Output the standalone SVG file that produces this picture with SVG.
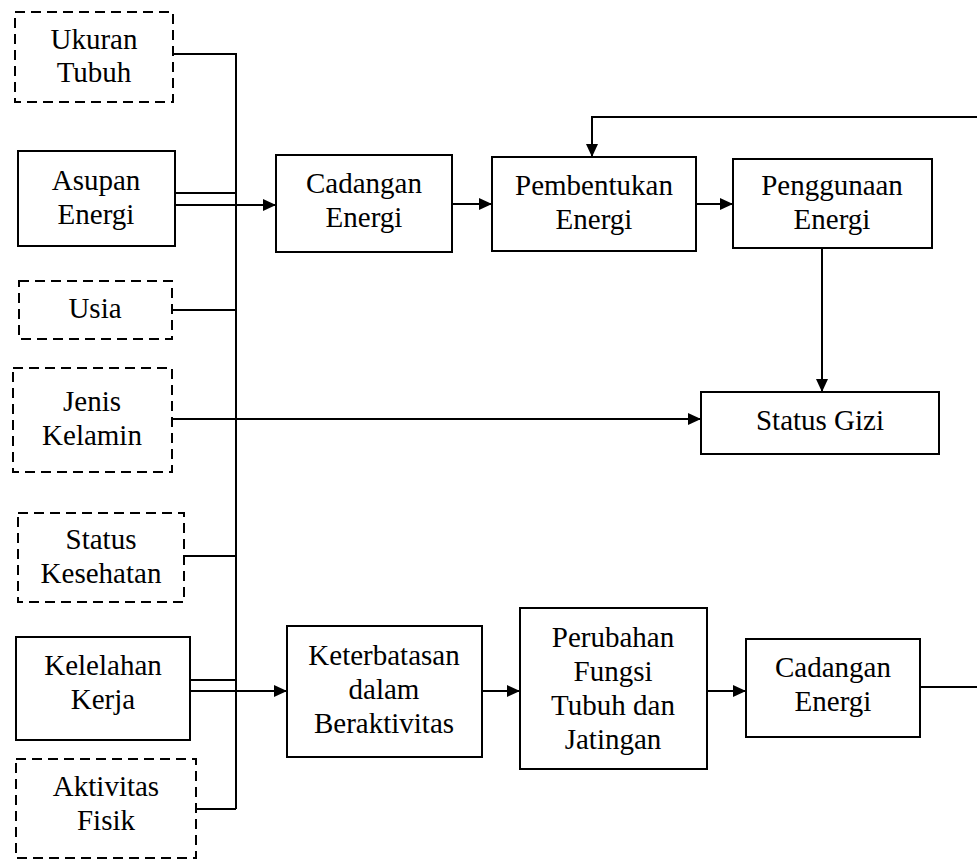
<svg xmlns="http://www.w3.org/2000/svg" width="977" height="860" viewBox="0 0 977 860">
<style>
.box{fill:#fff;stroke:#000;stroke-width:2}
.dash{fill:#fff;stroke:#000;stroke-width:2;stroke-dasharray:10 6}
.t{font-family:'Liberation Serif','DejaVu Serif',serif;font-size:29px;fill:#000;text-anchor:middle}
.ln{fill:none;stroke:#000;stroke-width:2}
.ar{fill:none;stroke:#000;stroke-width:2;marker-end:url(#ah)}
</style>
<defs>
<marker id="ah" markerUnits="userSpaceOnUse" markerWidth="14" markerHeight="14" refX="13" refY="7" orient="auto">
<path d="M0,1 L13,7 L0,13 Z" fill="#000"/>
</marker>
</defs>
<rect width="977" height="860" fill="#fff"/>
<g id="connectors">
<path class="ln" d="M173,54 H236 V809"/>
<path class="ln" d="M175,193 H236"/>
<path class="ar" d="M175,205 H276"/>
<path class="ln" d="M172,310 H236"/>
<path class="ar" d="M172,419 H701"/>
<path class="ln" d="M184,556 H236"/>
<path class="ln" d="M190,680 H236"/>
<path class="ar" d="M190,691 H287"/>
<path class="ln" d="M196,809 H236"/>
<path class="ar" d="M452,204 H492"/>
<path class="ar" d="M696,204 H733"/>
<path class="ar" d="M977,117 H592 V157"/>
<path class="ar" d="M822,248 V392"/>
<path class="ar" d="M482,691 H520"/>
<path class="ar" d="M707,691 H746"/>
<path class="ln" d="M920,687 H977"/>
</g>
<g id="ukuran-tubuh"><rect class="dash" x="15" y="12" width="158" height="90"/><text class="t" x="94" y="49">Ukuran</text><text class="t" x="94" y="82">Tubuh</text></g>
<g id="asupan-energi"><rect class="box" x="18" y="151" width="157" height="95"/><text class="t" x="96" y="190">Asupan</text><text class="t" x="96" y="224">Energi</text></g>
<g id="usia"><rect class="dash" x="19" y="281" width="153" height="58"/><text class="t" x="95" y="318">Usia</text></g>
<g id="jenis-kelamin"><rect class="dash" x="13" y="368" width="159" height="104"/><text class="t" x="92" y="411">Jenis</text><text class="t" x="92" y="445">Kelamin</text></g>
<g id="status-kesehatan"><rect class="dash" x="18" y="513" width="166" height="89"/><text class="t" x="101" y="549">Status</text><text class="t" x="101" y="583">Kesehatan</text></g>
<g id="kelelahan-kerja"><rect class="box" x="16" y="637" width="174" height="103"/><text class="t" x="103" y="675">Kelelahan</text><text class="t" x="103" y="709">Kerja</text></g>
<g id="aktivitas-fisik"><rect class="dash" x="16" y="759" width="180" height="99"/><text class="t" x="106" y="796">Aktivitas</text><text class="t" x="106" y="830">Fisik</text></g>
<g id="cadangan-energi-1"><rect class="box" x="276" y="155" width="176" height="97"/><text class="t" x="364" y="193">Cadangan</text><text class="t" x="364" y="227">Energi</text></g>
<g id="pembentukan-energi"><rect class="box" x="492" y="157" width="204" height="94"/><text class="t" x="594" y="195">Pembentukan</text><text class="t" x="594" y="229">Energi</text></g>
<g id="penggunaan-energi"><rect class="box" x="733" y="159" width="199" height="89"/><text class="t" x="832" y="195">Penggunaan</text><text class="t" x="832" y="229">Energi</text></g>
<g id="status-gizi"><rect class="box" x="701" y="392" width="238" height="62"/><text class="t" x="820" y="430">Status Gizi</text></g>
<g id="keterbatasan"><rect class="box" x="287" y="626" width="195" height="131"/><text class="t" x="384" y="665">Keterbatasan</text><text class="t" x="384" y="699">dalam</text><text class="t" x="384" y="733">Beraktivitas</text></g>
<g id="perubahan-fungsi"><rect class="box" x="520" y="608" width="187" height="161"/><text class="t" x="613" y="647">Perubahan</text><text class="t" x="613" y="681">Fungsi</text><text class="t" x="613" y="715">Tubuh dan</text><text class="t" x="613" y="749">Jatingan</text></g>
<g id="cadangan-energi-2"><rect class="box" x="746" y="639" width="174" height="98"/><text class="t" x="833" y="677">Cadangan</text><text class="t" x="833" y="711">Energi</text></g>
</svg>
